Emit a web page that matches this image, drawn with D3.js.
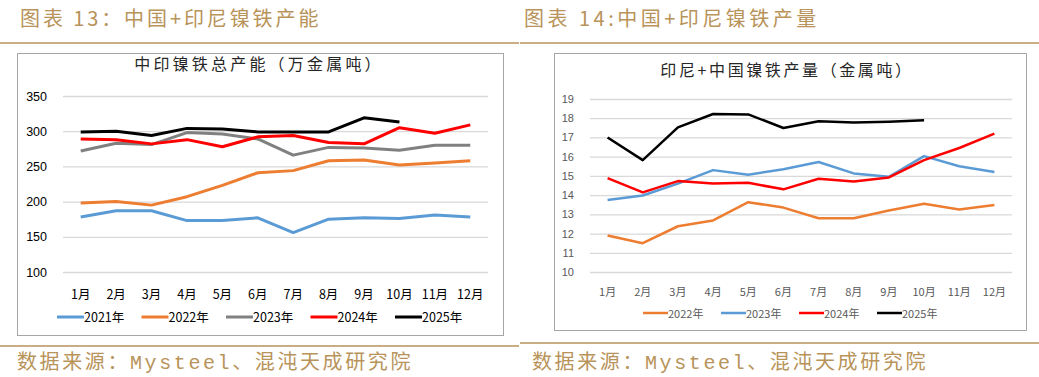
<!DOCTYPE html>
<html>
<head>
<meta charset="utf-8">
<script src="https://cdn.jsdelivr.net/npm/d3@7"></script>
<style>
  body { margin: 0; background: #fff; }
  text { font-family: "Noto Sans CJK SC", "Noto Sans", sans-serif; }
</style>
</head>
<body>
<svg id="chart" width="1039" height="377"></svg>
<script>
// data
const months = ["1月","2月","3月","4月","5月","6月","7月","8月","9月","10月","11月","12月"]

// left: 中印镍铁总产能（万金属吨）
const capYears = ["2021年","2022年","2023年","2024年","2025年"]
const cap2021 = [178, 187, 187, 173, 173, 177, 156, 175, 177, 176, 181, 178]
const cap2022 = [198, 200, 195, 207, 223, 241, 244, 258, 259, 252, 255, 258]
const cap2023 = [272, 283, 281, 298, 296, 289, 266, 277, 276, 273, 280, 280]
const cap2024 = [289, 288, 282, 288, 278, 292, 294, 284, 282, 305, 297, 309]
const cap2025 = [299, 300, 294, 304, 303, 299, 299, 299, 319, 313]
const capTicks = [100, 150, 200, 250, 300, 350]

// right: 印尼+中国镍铁产量（金属吨）
const outYears = ["2022年","2023年","2024年","2025年"]
const out2022 = [11.9, 11.5, 12.38, 12.68, 13.63, 13.35, 12.8, 12.8, 13.2, 13.55, 13.25, 13.48]
const out2023 = [13.74, 13.98, 14.6, 15.3, 15.06, 15.35, 15.72, 15.13, 14.95, 16.03, 15.5, 15.2]
const out2024 = [14.88, 14.14, 14.73, 14.6, 14.64, 14.3, 14.85, 14.71, 14.92, 15.82, 16.45, 17.2]
const out2025 = [17.0, 15.82, 17.52, 18.22, 18.2, 17.49, 17.84, 17.78, 17.82, 17.9]
const outTicks = [10, 11, 12, 13, 14, 15, 16, 17, 18, 19]

const gold = "#b8935a"
const svg = d3.select("#chart")

// headers and rules
function drawFrame(x0, x1, tx, heading, spacing) {
  svg.append("text")
    .attr("x", tx).attr("y", 26)
    .attr("font-size", 20).attr("fill", gold)
    .attr("letter-spacing", spacing)
    .text(heading)
  svg.append("line")
    .attr("x1", x0).attr("x2", x1).attr("y1", 43).attr("y2", 43)
    .attr("stroke", gold).attr("stroke-width", 1.5)
}
drawFrame(0, 519, 20, "图表 13：中国+印尼镍铁产能", 2.9)
drawFrame(520, 1039, 524, "图表 14:中国+印尼镍铁产量", 3.5)

function drawPanel(cfg) {
  const g = svg.append("g")

  // box
  g.append("rect")
    .attr("x", cfg.box[0] + 0.5).attr("y", cfg.box[1] + 0.5)
    .attr("width", cfg.box[2] - cfg.box[0]).attr("height", cfg.box[3] - cfg.box[1])
    .attr("fill", "#fff").attr("stroke", "#a6a6a6").attr("stroke-width", 1)

  g.append("text")
    .attr("x", cfg.titleX).attr("y", cfg.titleY)
    .attr("text-anchor", "middle").attr("font-size", 16)
    .attr("letter-spacing", cfg.titleSpacing).attr("fill", "#262626")
    .text(cfg.title)

  const x = d3.scaleBand().domain(months).range([cfg.left, cfg.right])
  const y = d3.scaleLinear().domain(cfg.domain).range([cfg.bottom, cfg.top])

  // gridlines
  g.append("g")
    .attr("transform", "translate(" + cfg.left + ",0)")
    .call(d3.axisLeft(y).tickValues(cfg.ticks)
      .tickSize(-(cfg.right - cfg.left)).tickPadding(cfg.labelGap))
    .call(a => a.select(".domain").remove())
    .call(a => a.selectAll("line").attr("stroke", "#d9d9d9").attr("stroke-width", 1.3))
    .call(a => a.selectAll("text").attr("fill", cfg.tickColor)
      .attr("font-size", cfg.tickSize).style("font-family", "Liberation Sans, Arial, sans-serif"))

  g.append("g")
    .attr("transform", "translate(0," + cfg.bottom + ")")
    .call(d3.axisBottom(x).tickSize(0).tickPadding(cfg.monthGap))
    .call(a => a.select(".domain").remove())
    .call(a => a.selectAll("text").attr("fill", cfg.tickColor).attr("font-size", cfg.tickSize))

  const line = d3.line()
    .x((d, i) => x(months[i]) + x.bandwidth() / 2)
    .y(d => y(d))

  cfg.series.forEach(s => {
    g.append("path")
      .datum(s.values)
      .attr("fill", "none")
      .attr("stroke", s.color)
      .attr("stroke-width", cfg.lineWidth)
      .attr("stroke-linejoin", "round")
      .attr("d", line)
  })

  // legend
  const leg = g.append("g")
    .attr("transform", "translate(" + cfg.legendX + "," + cfg.legendY + ")")
  cfg.series.forEach((s, i) => {
    const item = leg.append("g").attr("transform", "translate(" + i * cfg.legendStep + ",0)")
    item.append("line")
      .attr("x1", 0).attr("x2", cfg.legendLine)
      .attr("stroke", s.color).attr("stroke-width", cfg.lineWidth)
    item.append("text")
      .attr("x", cfg.legendLine).attr("y", 4.5)
      .attr("font-size", cfg.legendSize).attr("fill", cfg.legendColor)
      .text(s.name)
  })

  // source
  const src = svg.append("text")
    .attr("x", cfg.sourceX).attr("y", cfg.sourceY)
    .attr("font-size", 20).attr("fill", gold)
    .attr("letter-spacing", 2.6)
  src.append("tspan").text("数据来源：")
  src.append("tspan").style("font-family", "Liberation Mono, DejaVu Sans Mono, monospace").text("Mysteel")
  src.append("tspan").text("、混沌天成研究院")
  svg.append("line")
    .attr("x1", cfg.ruleX[0]).attr("x2", cfg.ruleX[1])
    .attr("y1", cfg.ruleY).attr("y2", cfg.ruleY)
    .attr("stroke", gold).attr("stroke-width", 1.5)
}

drawPanel({
  box: [17, 53, 503, 335],
  title: "中印镍铁总产能（万金属吨）", titleSpacing: 3.2,
  titleX: 259, titleY: 70,
  left: 63, right: 488, top: 96, bottom: 272,
  domain: [100, 350], ticks: capTicks,
  labelGap: 16, monthGap: 18, tickSize: 12.5, tickColor: "#000",
  lineWidth: 3,
  series: [
    {name: capYears[0], values: cap2021, color: "#5b9bd5"},
    {name: capYears[1], values: cap2022, color: "#ed7d31"},
    {name: capYears[2], values: cap2023, color: "#808080"},
    {name: capYears[3], values: cap2024, color: "#ff0000"},
    {name: capYears[4], values: cap2025, color: "#000000"}
  ],
  legendX: 57, legendY: 317, legendStep: 84.5, legendLine: 27,
  legendSize: 12.5, legendColor: "#000",
  sourceX: 17, sourceY: 369, ruleX: [0, 519], ruleY: 346
})

drawPanel({
  box: [554, 53, 1026, 330],
  title: "印尼+中国镍铁产量（金属吨）", titleSpacing: 2.6,
  titleX: 787, titleY: 76,
  left: 590, right: 1012, top: 99, bottom: 272,
  domain: [10, 19], ticks: outTicks,
  labelGap: 16, monthGap: 16, tickSize: 11, tickColor: "#595959",
  lineWidth: 2.5,
  series: [
    {name: outYears[0], values: out2022, color: "#ed7d31"},
    {name: outYears[1], values: out2023, color: "#5b9bd5"},
    {name: outYears[2], values: out2024, color: "#ff0000"},
    {name: outYears[3], values: out2025, color: "#000000"}
  ],
  legendX: 643, legendY: 313, legendStep: 78, legendLine: 25,
  legendSize: 11, legendColor: "#595959",
  sourceX: 532, sourceY: 369, ruleX: [520, 1039], ruleY: 343
})
</script>
</body>
</html>
